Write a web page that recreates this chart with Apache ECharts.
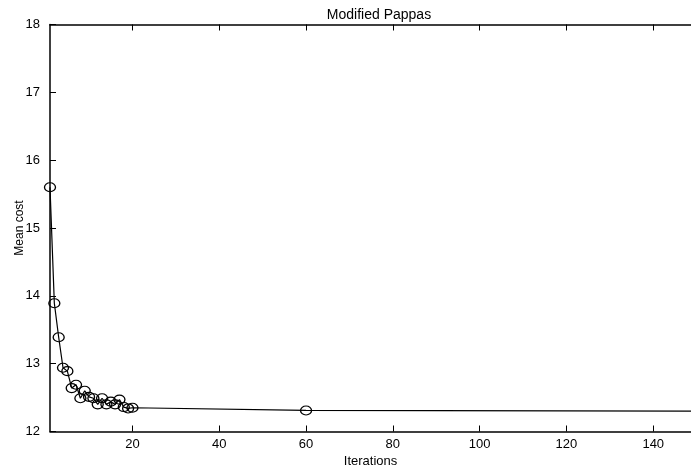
<!DOCTYPE html>
<html>
<head>
<meta charset="utf-8">
<script src="https://cdn.jsdelivr.net/npm/echarts@6/dist/echarts.min.js"></script>
<style>
  html, body { margin: 0; padding: 0; background: #fff; }
  #chart { width: 691px; height: 468px; }
</style>
</head>
<body>
<div id="chart"></div>
<script>
// Iteration numbers and the mean cost recorded at each one
const iterations = [1, 2, 3, 4, 5, 6, 7, 8, 9, 10, 11, 12, 13, 14, 15, 16, 17, 18, 19, 20, 60, 150];
const meanCost = [15.60, 13.89, 13.39, 12.94, 12.89, 12.64, 12.69, 12.49, 12.60, 12.51,
                  12.49, 12.40, 12.49, 12.40, 12.44, 12.40, 12.47, 12.36, 12.34, 12.35, 12.31, 12.30];

const xTicks = [20, 40, 60, 80, 100, 120, 140];
const yTicks = [12, 13, 14, 15, 16, 17, 18];

const FONT = 'Liberation Sans, Arial, sans-serif';

const chart = echarts.init(document.getElementById('chart'), null, { renderer: 'canvas' });

const axisLine = { show: true, lineStyle: { color: '#000', width: 1.5 } };
const tickStyle = { show: true, inside: true, length: 6, lineStyle: { color: '#000', width: 1 } };

chart.setOption({
  animation: false,
  backgroundColor: '#fff',
  title: {
    text: 'Modified Pappas',
    left: 374, top: 3, textAlign: 'center',
    textStyle: { fontFamily: FONT, fontSize: 14, fontWeight: 'normal', color: '#000' }
  },
  grid: { left: 50, top: 24.5, right: 0, bottom: 36.5, containLabel: false, outerBoundsMode: 'none' },
  xAxis: [{
    type: 'value', min: 1, max: 148.7,
    name: 'Iterations', nameLocation: 'middle', nameGap: 19,
    nameTextStyle: { fontFamily: FONT, fontSize: 13, color: '#000' },
    axisLine: axisLine,
    axisTick: Object.assign({ customValues: xTicks }, tickStyle),
    axisLabel: { customValues: xTicks, fontFamily: FONT, fontSize: 13, color: '#000', margin: 6 },
    splitLine: { show: false }
  }, {
    type: 'value', min: 1, max: 148.7, position: 'top',
    axisLine: axisLine,
    axisTick: Object.assign({ customValues: xTicks }, tickStyle),
    axisLabel: { show: false },
    splitLine: { show: false }
  }],
  yAxis: [{
    type: 'value', min: 12, max: 18, interval: 1,
    name: 'Mean cost', nameLocation: 'middle', nameGap: 24, nameRotate: 90,
    nameMoveOverlap: false,
    nameTextStyle: { fontFamily: FONT, fontSize: 12, color: '#000' },
    axisLine: axisLine,
    axisTick: tickStyle,
    axisLabel: { customValues: yTicks, fontFamily: FONT, fontSize: 13, color: '#000', margin: 10 },
    splitLine: { show: false }
  }],
  series: [{
    type: 'line',
    data: iterations.map((it, i) => [it, meanCost[i]]),
    symbol: 'circle',
    symbolSize: [11, 9],
    showAllSymbol: true,
    lineStyle: { color: '#000', width: 1.2 },
    itemStyle: { color: 'rgba(255,255,255,0)', borderColor: '#000', borderWidth: 1.2 },
    clip: true
  }]
});
</script>
</body>
</html>
